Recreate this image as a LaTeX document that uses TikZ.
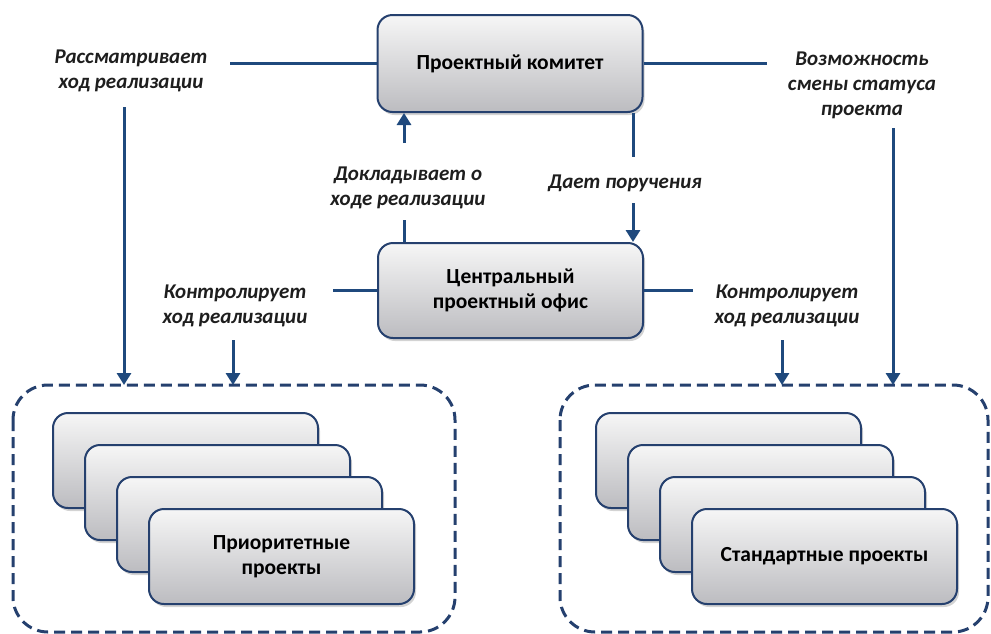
\documentclass[tikz,border=0pt]{standalone}
\usepackage{fontspec}
\setmainfont{Carlito}
\usetikzlibrary{arrows.meta,shadows}
\definecolor{navy}{RGB}{37,64,110}
\definecolor{linec}{RGB}{31,73,125}
\definecolor{topg}{RGB}{246,246,246}
\definecolor{botg}{RGB}{188,188,192}
\definecolor{labc}{RGB}{30,30,30}
\tikzset{
  pbox/.style={draw=navy, line width=2pt, rounded corners=15pt, minimum width=265pt, minimum height=95pt,
    top color=topg, bottom color=botg, align=center, font=\bfseries\fontsize{21.5}{25}\selectfont,
    drop shadow={opacity=0.35, shadow xshift=2pt, shadow yshift=-3pt}},
  lab/.style={align=center, text=labc, font=\bfseries\itshape\fontsize{21}{25}\selectfont, inner sep=1pt},
  conn/.style={draw=linec, line width=3pt},
  arr/.style={conn, -{Triangle[width=14pt,length=12pt]}},
  dbox/.style={draw=navy, line width=3pt, dash pattern=on 11pt off 6pt, rounded corners=35pt}
}
\begin{document}
\begin{tikzpicture}[x=1pt,y=-1pt]
\useasboundingbox (0,0) rectangle (991,633);
% dashed containers
\draw[dbox] (13,385) rectangle (455,632);
\draw[dbox] (560,385) rectangle (988,632);
\coordinate (dlt) at (13,385);
\coordinate (drt) at (560,385);
% main boxes
\node[pbox, minimum height=97pt] (pk) at (510,63.5) {Проектный комитет};
\node[pbox] (cpo) at (510.5,290.5) {Центральный\\проектный офис};
% stacked project boxes
\node[pbox] (l1) at (185.5,460.5) {};
\node[pbox] (l2) at (217.5,492.5) {};
\node[pbox] (l3) at (249.5,524.5) {};
\node[pbox] (l4) at (281.5,556.5) {Приоритетные\\проекты};
\node[pbox] (r1) at (728.5,460.5) {};
\node[pbox] (r2) at (760.5,492.5) {};
\node[pbox] (r3) at (792.5,524.5) {};
\node[pbox] (r4) at (824.5,556.5) {Стандартные проекты};
% labels
\node[lab] (lr) at (131,71) {Рассматривает\\ход реализации};
\node[lab] (lv) at (862,85) {Возможность\\смены статуса\\проекта};
\node[lab] (ld) at (408,188) {Докладывает о\\ходе реализации};
\node[lab] (lp) at (625,183) {Дает поручения};
\node[lab] (lkl) at (235,306) {Контролирует\\ход реализации};
\node[lab] (lkr) at (787,306) {Контролирует\\ход реализации};
% free ends
\coordinate (a1) at (230,63.5);
\coordinate (a2) at (124,107);
\coordinate (b1) at (767,63.5);
\coordinate (b2) at (893,128);
\coordinate (c1) at (404,220);
\coordinate (c2) at (404,143);
\coordinate (d1) at (633,157);
\coordinate (d2) at (633,203);
\coordinate (e1) at (333,290.5);
\coordinate (e2) at (693,290.5);
\coordinate (f1) at (233,340);
\coordinate (f2) at (782,340);
% connectors
\draw[conn] (pk.west) -- (a1);
\draw[arr] (a2) -- (a2 |- dlt);
\draw[conn] (pk.east) -- (b1);
\draw[arr] (b2) -- (b2 |- drt);
\draw[conn] (c1 |- cpo.north) -- (c1);
\draw[arr] (c2) -- (c2 |- pk.south);
\draw[conn] (d1 |- pk.south) -- (d1);
\draw[arr] (d2) -- (d2 |- cpo.north);
\draw[conn] (cpo.west) -- (e1);
\draw[conn] (cpo.east) -- (e2);
\draw[arr] (f1) -- (f1 |- dlt);
\draw[arr] (f2) -- (f2 |- drt);
\end{tikzpicture}
\end{document}
